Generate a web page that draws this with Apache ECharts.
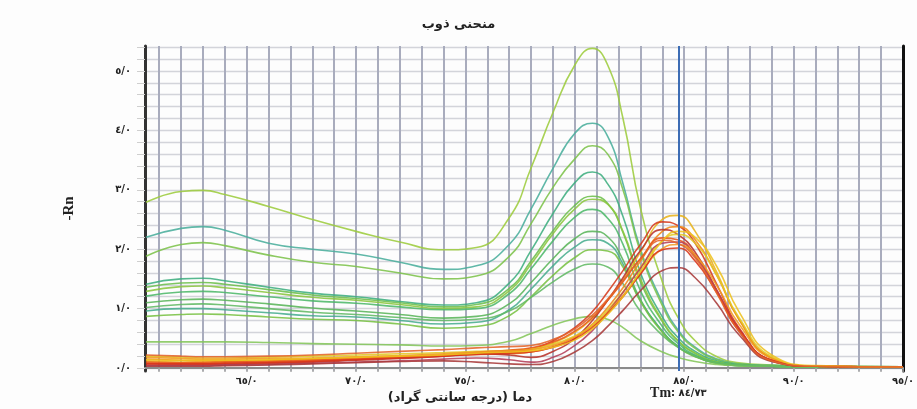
<!DOCTYPE html>
<html>
<head>
<meta charset="utf-8">
<script src="https://cdn.jsdelivr.net/npm/echarts@6/dist/echarts.min.js"></script>
<style>
  html, body { margin: 0; padding: 0; background: #fdfdfd; }
  #chart { width: 917px; height: 409px; }
</style>
</head>
<body>
<div id="chart"></div>
<script>
// temperature samples (°C)
const temps = [60.4, 62, 63, 64, 66, 68, 70, 72, 74, 75.5, 77, 78, 79, 80, 80.8, 81.5, 82.2, 83, 84, 84.7, 85.5, 86.5, 87.5, 89, 91, 95];

// green group (peak near 80.8)
const g1 = [2.79, 2.97, 2.99, 2.92, 2.72, 2.5, 2.3, 2.12, 1.99, 2.03, 2.53, 3.37, 4.3, 5.1, 5.38, 5.1, 4.2, 2.69, 1.45, 0.86, 0.46, 0.19, 0.09, 0.05, 0.03, 0.02];
const g2 = [2.2, 2.35, 2.38, 2.32, 2.1, 2.0, 1.92, 1.78, 1.66, 1.72, 2.08, 2.68, 3.36, 3.95, 4.12, 3.9, 3.1, 2.0, 1.1, 0.65, 0.35, 0.15, 0.07, 0.04, 0.03, 0.02];
const g3 = [1.88, 2.08, 2.11, 2.06, 1.9, 1.78, 1.71, 1.6, 1.5, 1.55, 1.88, 2.43, 3.04, 3.52, 3.74, 3.6, 3.0, 1.95, 1.05, 0.62, 0.33, 0.14, 0.07, 0.04, 0.03, 0.02];
const g4 = [1.41, 1.5, 1.51, 1.47, 1.36, 1.26, 1.2, 1.12, 1.06, 1.1, 1.43, 1.98, 2.6, 3.12, 3.3, 3.1, 2.55, 1.6, 0.86, 0.52, 0.28, 0.12, 0.06, 0.04, 0.03, 0.02];
const g5 = [1.36, 1.43, 1.44, 1.41, 1.32, 1.23, 1.17, 1.1, 1.03, 1.07, 1.34, 1.8, 2.31, 2.74, 2.89, 2.77, 2.28, 1.45, 0.78, 0.46, 0.25, 0.1, 0.05, 0.03, 0.02, 0.02];
const g6 = [1.29, 1.37, 1.38, 1.35, 1.27, 1.19, 1.14, 1.07, 1.0, 1.03, 1.3, 1.75, 2.26, 2.68, 2.84, 2.76, 2.3, 1.5, 0.8, 0.47, 0.25, 0.1, 0.05, 0.03, 0.02, 0.02];
const g7 = [1.21, 1.28, 1.29, 1.27, 1.2, 1.13, 1.09, 1.03, 0.98, 1.0, 1.25, 1.67, 2.14, 2.54, 2.67, 2.52, 2.08, 1.3, 0.7, 0.42, 0.22, 0.09, 0.05, 0.03, 0.02, 0.02];
const g8 = [1.1, 1.15, 1.16, 1.14, 1.08, 1.01, 0.96, 0.9, 0.84, 0.87, 1.08, 1.44, 1.84, 2.18, 2.3, 2.21, 1.82, 1.15, 0.62, 0.37, 0.2, 0.08, 0.04, 0.03, 0.02, 0.02];
const g9 = [0.96, 1.0, 1.0, 0.98, 0.93, 0.88, 0.86, 0.8, 0.74, 0.77, 0.98, 1.33, 1.72, 2.04, 2.16, 2.1, 1.75, 1.13, 0.62, 0.37, 0.2, 0.08, 0.04, 0.03, 0.02, 0.02];
const g10 = [0.87, 0.9, 0.91, 0.9, 0.86, 0.82, 0.8, 0.74, 0.67, 0.7, 0.88, 1.2, 1.56, 1.86, 1.99, 1.97, 1.7, 1.12, 0.6, 0.36, 0.19, 0.08, 0.04, 0.03, 0.02, 0.02];
const g11 = [0.44, 0.44, 0.44, 0.44, 0.43, 0.41, 0.4, 0.39, 0.37, 0.38, 0.45, 0.58, 0.72, 0.83, 0.87, 0.82, 0.68, 0.46, 0.27, 0.18, 0.11, 0.06, 0.04, 0.03, 0.02, 0.02];
const g12 = [1.02, 1.07, 1.08, 1.06, 1.0, 0.94, 0.9, 0.85, 0.8, 0.82, 0.96, 1.19, 1.45, 1.67, 1.75, 1.7, 1.42, 0.95, 0.55, 0.35, 0.2, 0.09, 0.05, 0.03, 0.02, 0.02];

// orange / red group (peak near 84.4)
const o1 = [0.12, 0.1, 0.1, 0.11, 0.13, 0.15, 0.18, 0.2, 0.22, 0.24, 0.26, 0.3, 0.42, 0.6, 0.84, 1.14, 1.48, 1.95, 2.5, 2.57, 2.3, 1.6, 0.82, 0.17, 0.03, 0.02];
const o2 = [0.08, 0.07, 0.07, 0.08, 0.1, 0.12, 0.15, 0.18, 0.21, 0.25, 0.28, 0.32, 0.46, 0.68, 0.95, 1.28, 1.64, 2.08, 2.46, 2.4, 2.1, 1.4, 0.68, 0.13, 0.03, 0.02];
const o3 = [0.15, 0.13, 0.12, 0.12, 0.13, 0.15, 0.17, 0.19, 0.21, 0.23, 0.24, 0.27, 0.36, 0.52, 0.74, 1.02, 1.35, 1.8, 2.3, 2.38, 2.16, 1.55, 0.82, 0.17, 0.03, 0.02];
const o4 = [0.05, 0.05, 0.05, 0.06, 0.08, 0.1, 0.13, 0.16, 0.2, 0.24, 0.22, 0.18, 0.28, 0.5, 0.8, 1.14, 1.52, 1.98, 2.33, 2.25, 1.95, 1.3, 0.62, 0.12, 0.03, 0.02];
const o5 = [0.2, 0.18, 0.17, 0.17, 0.18, 0.2, 0.22, 0.24, 0.26, 0.28, 0.3, 0.33, 0.4, 0.54, 0.72, 0.98, 1.28, 1.7, 2.14, 2.25, 2.1, 1.55, 0.85, 0.19, 0.03, 0.02];
const o6 = [0.1, 0.09, 0.09, 0.1, 0.11, 0.13, 0.16, 0.19, 0.22, 0.26, 0.3, 0.34, 0.44, 0.62, 0.85, 1.14, 1.45, 1.84, 2.19, 2.16, 1.9, 1.3, 0.65, 0.13, 0.03, 0.02];
const o7 = [0.04, 0.04, 0.04, 0.05, 0.06, 0.08, 0.1, 0.12, 0.15, 0.17, 0.14, 0.1, 0.18, 0.38, 0.63, 0.94, 1.27, 1.68, 2.1, 2.12, 1.88, 1.3, 0.66, 0.13, 0.03, 0.02];
const o8 = [0.18, 0.16, 0.15, 0.15, 0.16, 0.17, 0.19, 0.21, 0.24, 0.27, 0.29, 0.31, 0.38, 0.52, 0.7, 0.94, 1.22, 1.6, 2.01, 2.08, 1.9, 1.38, 0.74, 0.16, 0.03, 0.02];
const o9 = [0.07, 0.07, 0.07, 0.08, 0.09, 0.11, 0.14, 0.17, 0.2, 0.23, 0.25, 0.27, 0.35, 0.49, 0.68, 0.92, 1.2, 1.58, 1.99, 2.02, 1.8, 1.26, 0.65, 0.13, 0.03, 0.02];
const o10 = [0.03, 0.03, 0.03, 0.04, 0.05, 0.07, 0.09, 0.11, 0.12, 0.1, 0.07, 0.06, 0.11, 0.27, 0.46, 0.7, 0.97, 1.3, 1.64, 1.69, 1.52, 1.08, 0.56, 0.11, 0.03, 0.02];
const o11 = [0.14, 0.13, 0.13, 0.13, 0.14, 0.16, 0.18, 0.2, 0.22, 0.25, 0.27, 0.29, 0.35, 0.47, 0.66, 0.9, 1.2, 1.63, 2.14, 2.3, 2.2, 1.7, 0.95, 0.22, 0.04, 0.02];
const o12 = [0.22, 0.2, 0.19, 0.19, 0.2, 0.22, 0.25, 0.28, 0.31, 0.34, 0.36, 0.38, 0.48, 0.66, 0.89, 1.16, 1.47, 1.84, 2.15, 2.1, 1.85, 1.25, 0.62, 0.12, 0.03, 0.02];

const greenSet = [g1, g2, g3, g4, g5, g6, g7, g8, g9, g10, g11, g12];
const greenColors = ['#9dcc3e', '#4aae9c', '#7dc34b', '#3fae80', '#6cbf4c', '#8bc63f', '#4db86a', '#5ab55a', '#48ad8e', '#79c143', '#84c65a', '#62b964'];
const orangeSet = [o1, o2, o3, o4, o5, o6, o7, o8, o9, o10, o11, o12];
const orangeColors = ['#e8b41c', '#d63a1e', '#f08a1a', '#b8322a', '#e2c925', '#e8561c', '#b5405a', '#f29b22', '#d9361a', '#a83a3a', '#eec21f', '#e4642a'];

// axis ticks / labels
const xTicks = [];
for (let t = 61; t <= 95; t++) xTicks.push(t);
const xLabels = [65, 70, 75, 80, 85, 90, 95];
const yTicks = [];
for (let k = 0; k <= 27; k++) yTicks.push(+(k * 0.2).toFixed(1));
const yLabels = [0, 1, 2, 3, 4, 5];
const tmValue = 84.73;

const fa = s => String(s).replace(/\d/g, d => '٠١٢٣٤٥٦٧٨٩'[d]).replace('.', '/');
const fmt1 = v => fa(Number(v).toFixed(1));

const makeSeries = (d, color) => ({
  type: 'line',
  data: temps.map((t, j) => [t, d[j]]),
  smooth: 0.5,
  symbol: 'none',
  silent: true,
  lineStyle: { width: 1.6, color: color, opacity: 0.88 }
});

const series = greenSet.map((d, i) => makeSeries(d, greenColors[i]))
  .concat(orangeSet.map((d, i) => makeSeries(d, orangeColors[i])));

series[0].markLine = {
  silent: true,
  symbol: 'none',
  animation: false,
  lineStyle: { color: '#3d6db5', width: 2, type: 'solid' },
  label: {
    position: 'start',
    distance: 15,
    formatter: '{b|Tm}{n|: ' + fa(tmValue) + '}',
    rich: {
      b: { fontFamily: 'Liberation Serif', fontWeight: 'bold', fontSize: 14, color: '#222' },
      n: { fontFamily: 'DejaVu Sans', fontWeight: 'bold', fontSize: 10, color: '#222' }
    }
  },
  data: [{ xAxis: tmValue }]
};

const chart = echarts.init(document.getElementById('chart'));
chart.setOption({
  animation: false,
  backgroundColor: '#fdfdfd',
  title: {
    text: 'منحنی ذوب',
    left: 'center',
    top: 13,
    textStyle: { fontFamily: 'DejaVu Sans', fontSize: 13, fontWeight: 'bold', color: '#222' }
  },
  grid: { left: 145, right: 14, top: 46, bottom: 38 },
  xAxis: [{
    type: 'value',
    min: 60.35,
    max: 95,
    name: 'دما (درجه سانتی گراد)\u200F',
    nameLocation: 'middle',
    nameGap: 20,
    nameTextStyle: { fontFamily: 'DejaVu Sans', fontSize: 13, fontWeight: 'bold', color: '#222', padding: [0, 128, 0, 0] },
    axisLine: { show: true, lineStyle: { color: '#666', width: 2 } },
    axisTick: { show: true, length: 4, customValues: xTicks, lineStyle: { color: '#aaa', width: 1.5 } },
    axisLabel: {
      customValues: xLabels,
      margin: 5,
      formatter: fmt1,
      fontFamily: 'DejaVu Sans', fontSize: 10, fontWeight: 'bold', color: '#222'
    },
    splitLine: { show: true, lineStyle: { color: '#a9acbd', width: 2 } }
  }, {
    type: 'value',
    position: 'top',
    min: 60.35,
    max: 95,
    axisLine: { show: true, lineStyle: { color: '#8a8a8a', width: 2 } },
    axisTick: { show: false },
    axisLabel: { show: false },
    splitLine: { show: false }
  }],
  yAxis: [{
    type: 'value',
    min: -0.05,
    max: 5.42,
    name: '-Rn',
    nameLocation: 'middle',
    nameRotate: 90,
    nameGap: 68,
    nameTextStyle: { fontFamily: 'Liberation Serif', fontSize: 15, fontWeight: 'bold', color: '#222' },
    axisLine: { show: true, lineStyle: { color: '#333', width: 3 } },
    axisTick: { show: true, length: 8, customValues: yTicks, lineStyle: { color: '#cfcfcf', width: 1 } },
    axisLabel: {
      customValues: yLabels,
      margin: 14,
      formatter: fmt1,
      fontFamily: 'DejaVu Sans', fontSize: 10, fontWeight: 'bold', color: '#222'
    },
    splitLine: { show: true, lineStyle: { color: '#d3d4da', width: 1.3 } }
  }, {
    type: 'value',
    position: 'right',
    min: -0.05,
    max: 5.42,
    axisLine: { show: true, lineStyle: { color: '#111', width: 3 } },
    axisTick: { show: false },
    axisLabel: { show: false },
    splitLine: { show: false }
  }],
  series: series
});
</script>
</body>
</html>
